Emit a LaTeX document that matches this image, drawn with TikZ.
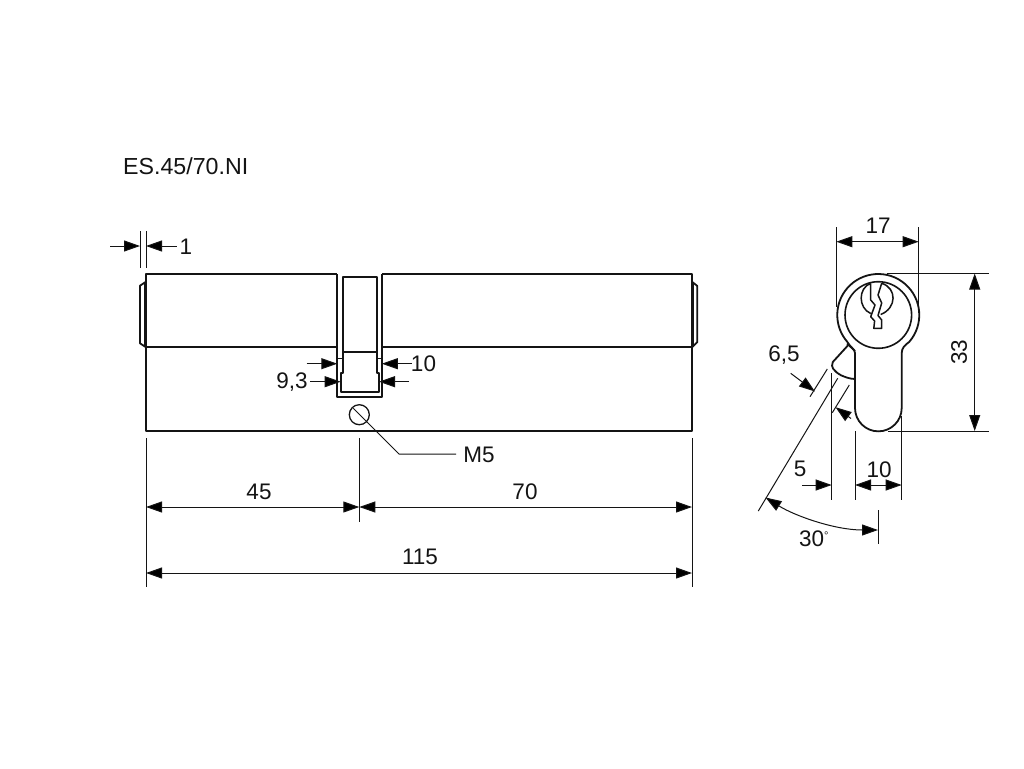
\documentclass[tikz,border=0pt]{standalone}
\usepackage{fontspec}
\setmainfont{Liberation Sans}
\usetikzlibrary{arrows.meta}
\definecolor{ink}{HTML}{141414}
\tikzset{
  thickline/.style={draw=ink,line width=1.8pt,line join=round},
  thinline/.style={draw=ink,line width=1pt},
  dimarrow/.style={thinline,-{Triangle[length=16pt,width=11pt,fill=black]}},
  dimboth/.style={thinline,{Triangle[length=16pt,width=11pt,fill=black]}-{Triangle[length=16pt,width=11pt,fill=black]}},
  dimtext/.style={inner sep=0pt,text=ink,font=\fontsize{22.5}{22.5}\selectfont},
}
\begin{document}
\begin{tikzpicture}[x=1pt,y=-1pt]
\useasboundingbox[fill=white] (0,0) rectangle (1024,768);

% ---------- front view ----------
\draw[thickline] (337.3,274.3) -- (146,274.3) -- (146,431) -- (692,431) -- (692,274.3) -- (381.8,274.3);
\draw[thickline] (146,347.3) -- (337.3,347.3);
\draw[thickline] (381.8,347.3) -- (692,347.3);
% knobs
\draw[thickline] (146,281.7) -- (140,285.7) -- (140,343.3) -- (146,347.3);
\draw[thickline] (144.8,282) -- (144.8,347);
\draw[thickline] (692,281.7) -- (697.3,286) -- (697.3,342) -- (692,347.3);
\draw[thickline] (693,282) -- (693,347);
% slot
\draw[thickline] (337.3,274.3) -- (337.3,397.3) -- (381.8,397.3) -- (381.8,274.3);
\draw[thickline] (342.7,372.7) -- (342.7,276.7) -- (376.7,276.7) -- (376.7,372.7) -- (379,372.7) -- (379,392.3) -- (340.7,392.3) -- (340.7,372.7) -- cycle;
\draw[thickline] (342.7,352.3) -- (376.7,352.3);
\draw[thickline] (337.3,358.5) -- (342.7,358.5);
\draw[thickline] (376.7,358.5) -- (381.8,358.5);
% hole
\node[circle,draw=ink,line width=1.3pt,minimum size=20pt,inner sep=0pt] (hole) at (359.3,414.7) {};

% ---------- end view ----------
\draw[thickline] (909.2,341.9) arc[start angle=-41,end angle=221,radius=41pt]
  .. controls (850,347) and (855,349) .. (855,353) -- (855,408)
  arc[start angle=180,end angle=360,radius=23.35pt] -- (901.7,353)
  .. controls (901.7,348) and (905,345) .. cycle;
\node[circle,draw=ink,line width=1.6pt,minimum size=66.6pt,inner sep=0pt] (bore) at (878.3,315) {};
% key way
\draw[draw=ink,line width=1.5pt,line join=round]
  (870.7,283.3) .. controls (858,288) and (858,308) .. (870.7,313.5)
  (881.7,283.3) .. controls (897,288) and (897,308) .. (880.7,314.5)
  (870.7,283.3) -- (870.7,300) -- (875,305) -- (870.7,316.7) -- (874.6,321) -- (873.8,328.3) -- (881.7,328.3) -- (881.7,320) -- (878,315.5) -- (881.7,303) -- (878,295) -- (881.7,283.3);
% cam
\draw[thickline] (848.3,345) -- (832.8,362) .. controls (831.5,365) and (832,367) .. (833,368.5)
  .. controls (836,372) and (838,374) .. (841,375.3) .. controls (845,377) and (850,379) .. (855,379);
\draw[thickline] (847,343.5) -- (855,351);

% ---------- named anchors ----------
\coordinate (o1) at (140,231); \coordinate (o1b) at (140,267.7);
\coordinate (l1) at (146,231); \coordinate (l1b) at (146,267.7);
\coordinate (a1l) at (110,246); \coordinate (a1lt) at (140,246);
\coordinate (a1r) at (176.7,246); \coordinate (a1rt) at (146,246);

% dim 1
\draw[thinline] (o1) -- (o1b);
\draw[thinline] (l1) -- (l1b);
\draw[dimarrow] (a1l) -- (a1lt);
\draw[dimarrow] (a1r) -- (a1rt);

% dim 10 / 9,3
\draw[dimarrow] (306.7,363.7) -- (337.3,363.7);
\draw[dimarrow] (411.7,363.7) -- (381.8,363.7);
\draw[dimarrow] (310,381.7) -- (340.7,381.7);
\draw[dimarrow] (409,381.7) -- (379,381.7);

% M5 leader
\coordinate (m5a) at (353.3,408.3);
\coordinate (m5b) at (399,454);
\coordinate (m5c) at (456,454);
\draw[thinline] (m5a) -- (m5b) -- (m5c);

% length dims
\draw[thinline] (146,438) -- (146,587);
\draw[thinline] (692,438) -- (692,587);
\draw[thinline] (359.3,438) -- (359.3,522);
\draw[dimboth] (146,507) -- (359.3,507);
\draw[dimboth] (359.3,507) -- (692,507);
\draw[dimboth] (146,573) -- (692,573);

% dim 17
\draw[thinline] (836.3,227) -- (836.3,307);
\draw[thinline] (918.7,227) -- (918.7,313);
\draw[dimboth] (836.3,241.7) -- (918.7,241.7);
% dim 33
\draw[thinline] (886.7,273.5) -- (989.3,273.5);
\draw[thinline] (888,431) -- (989.3,431);
\draw[dimboth] (974.7,273.5) -- (974.7,431);
% dim 5 / 10
\draw[thinline] (831.7,373) -- (831.7,499.5);
\draw[thinline] (855,431) -- (855,499.5);
\draw[thinline] (901.7,416) -- (901.7,499.5);
\draw[dimarrow] (802.3,485) -- (831.7,485);
\draw[dimboth] (855,485) -- (901.7,485);
% dim 6,5
\draw[thinline] (827.3,369) -- (810,396.7);
\draw[thinline] (849.3,385) -- (832.3,412.7);
\draw[dimarrow] (790.7,373.3) -- (815,391.5);
\draw[dimarrow] (851,418.5) -- (835.5,407.2);
% dim 30
\draw[thinline] (837.7,378.3) -- (758.3,511);
\draw[thinline] (878,510) -- (878,544.3);
\draw[thinline,{Triangle[length=16pt,width=11pt,fill=black]}-{Triangle[length=16pt,width=11pt,fill=black]}]
  (765.5,497.5) .. controls (795,516) and (835,530) .. (878,530);

% ---------- labels ----------
\node[inner sep=0pt,text=ink,anchor=west,font=\fontsize{23.2}{23.2}\selectfont] (title) at (123,166) {ES.45/70.NI};
\node[dimtext] (t1) at (186,247) {1};
\node[dimtext] (t10a) at (423.5,364) {10};
\node[dimtext] (t93) at (292,382) {9,3};
\node[dimtext] (tm5) at (479,455) {M5};
\node[dimtext] (t45) at (259,491.5) {45};
\node[dimtext] (t70) at (525,491.5) {70};
\node[dimtext] (t115) at (420,557) {115};
\node[dimtext] (t17) at (878,226) {17};
\node[dimtext,rotate=90] (t33) at (959,352) {33};
\node[dimtext] (t65) at (784,355) {6,5};
\node[dimtext] (t5) at (800,469) {5};
\node[dimtext] (t10b) at (879,470) {10};
\node[inner sep=0pt,text=ink,anchor=west,font=\fontsize{22.5}{22.5}\selectfont] (t30) at (799,539) {30\raisebox{7pt}{\fontsize{11}{11}\selectfont °}};
\end{tikzpicture}
\end{document}
